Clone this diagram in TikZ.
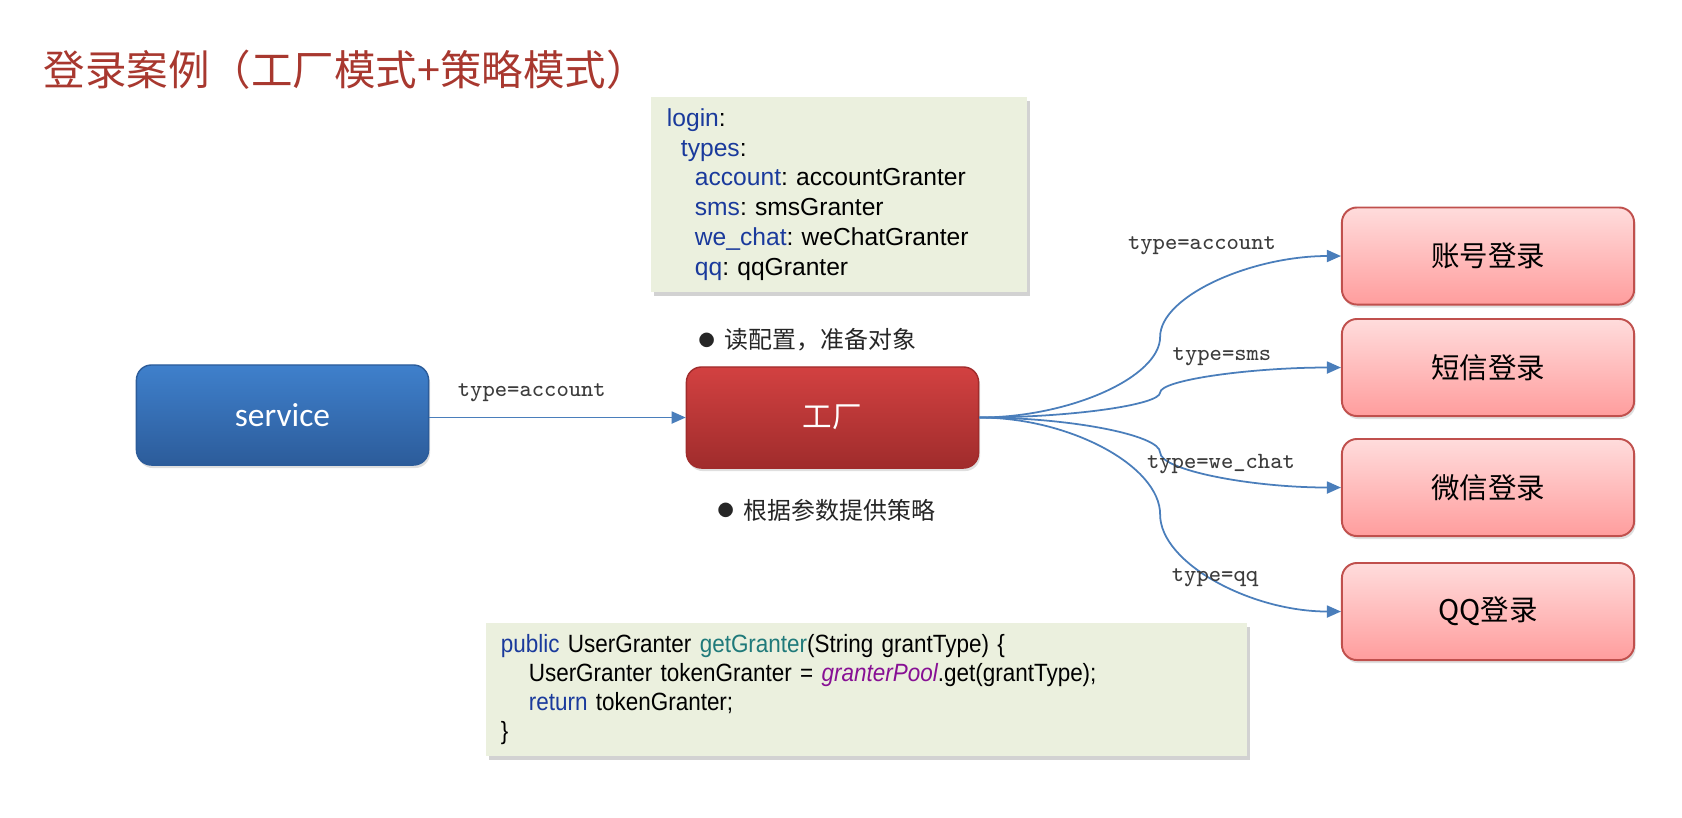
\documentclass[tikz,border=0pt]{standalone}
\usepackage{fontspec}
\setmainfont{Liberation Sans}
\setsansfont{Carlito}
\newfontfamily\cjk{Noto Sans CJK SC}
\newfontfamily\codefont[FakeStretch=0.9]{Liberation Sans}
\usetikzlibrary{positioning,arrows.meta,calc,shadows}
\definecolor{ttlred}{HTML}{A8382F}
\definecolor{svctop}{HTML}{3F80CC}
\definecolor{svcbot}{HTML}{2C5C9A}
\definecolor{factop}{HTML}{D24141}
\definecolor{facbot}{HTML}{A02C2C}
\definecolor{grtop}{HTML}{FFDCDC}
\definecolor{grbot}{HTML}{FF9D9D}
\definecolor{grline}{HTML}{C0504D}
\definecolor{cfgfill}{HTML}{EBF0DE}
\definecolor{key}{HTML}{1A3A9C}
\definecolor{meth}{HTML}{1F7A7A}
\definecolor{fld}{HTML}{871094}
\definecolor{wire}{HTML}{4A7EBB}
\definecolor{ink}{HTML}{262626}
\newcommand{\dotmark}{{\fontsize{4.6}{6}\selectfont\raisebox{0.25ex}{●}}\hspace{0.1cm}}
\frenchspacing

\begin{document}
\begin{tikzpicture}[
  x=0.01cm, y=-0.01cm,
  rbox/.style={rounded corners=0.15cm, minimum width=2.92cm, align=center,
    drop shadow={shadow xshift=0.015cm, shadow yshift=-0.03cm, opacity=0.25}},
  svcbox/.style={rbox, minimum height=1cm, top color=svctop, bottom color=svcbot, draw=svcbot,
    line width=0.4pt, text=white, font=\sffamily\fontsize{9.5}{11}\selectfont},
  facbox/.style={rbox, minimum height=1.01cm, top color=factop, bottom color=facbot, draw=facbot,
    line width=0.4pt, text=white, font=\cjk\fontsize{8.4}{10}\selectfont},
  grbox/.style={rbox, minimum height=0.97cm, top color=grtop, bottom color=grbot, draw=grline,
    line width=0.55pt, text=black, font=\cjk\fontsize{8.1}{10}\selectfont},
  cfgbox/.style={fill=cfgfill, align=left, inner ysep=0pt,
    drop shadow={shadow xshift=0.03cm, shadow yshift=-0.04cm, opacity=0.35}},
  flow/.style={-{Triangle[length=0.14cm, width=0.12cm]}, line width=0.5pt, draw=wire},
  lbl/.style={font=\ttfamily\fontsize{6.6}{8}\selectfont, text=ink!90},
  note/.style={font=\cjk\fontsize{6.8}{8}\selectfont, text=ink, inner sep=0pt, anchor=west}
]
  \useasboundingbox[fill=white] (0,0) rectangle (1682,817);

  \node[font=\cjk\fontsize{11.8}{14}\selectfont, text=ttlred, inner sep=0pt, anchor=west] (ttl) at (43,70)
    {登录案例（工厂模式+策略模式）};

  % config and code snippets
  \node[cfgbox, text width=3.44cm, inner xsep=0.16cm, minimum height=1.95cm,
    font=\fontsize{7}{8.5}\selectfont] (cfg) at (839,194.5)
    {{\color{key}login}:\\
     \hspace*{0.14cm}{\color{key}types}:\\
     \hspace*{0.28cm}{\color{key}account}: accountGranter\\
     \hspace*{0.28cm}{\color{key}sms}: smsGranter\\
     \hspace*{0.28cm}{\color{key}we\_chat}: weChatGranter\\
     \hspace*{0.28cm}{\color{key}qq}: qqGranter};
  \node[cfgbox, text width=7.31cm, inner xsep=0.15cm, minimum height=1.33cm,
    font=\codefont\fontsize{7.1}{8.3}\selectfont] (code) at (866.5,689.5)
    {{\color{key}public} UserGranter {\color{meth}getGranter}(String grantType) \{\\
     \hspace*{0.28cm}UserGranter tokenGranter = {\color{fld}\itshape granterPool}.get(grantType);\\
     \hspace*{0.28cm}{\color{key}return} tokenGranter;\\
     \}};

  \node[svcbox] (svc) at (282.5,415) {service};
  \node[facbox] (fac) at (832.5,417.5) {工厂};

  \node[note] (n1) at (698,340) {\dotmark 读配置，准备对象};
  \node[note] (n2) at (717,510) {\dotmark 根据参数提供策略};

  \node[grbox] (acc) at (1488,256) {账号登录};
  \node[grbox] (sms) at (1488,367.5) {短信登录};
  \node[grbox] (wc)  at (1488,487.5) {微信登录};
  \node[grbox] (qq)  at (1488,611.5) {QQ登录};

  \draw[flow] (svc.east |- fac.west) -- node[lbl, above, pos=0.4, yshift=1pt]{type=account} (fac.west);

  % fan out from the factory
  \foreach \t in {acc,sms,wc,qq}{
    \coordinate (m) at ($(fac.east)!0.5!(\t.west)$);
    \draw[flow] (fac.east) .. controls ($(fac.east)!0.5!(fac.east -| m)$) and ($(fac.east -| m)!0.5!(m)$) .. (m)
      .. controls ($(m)!0.5!(m |- \t.west)$) and ($(m |- \t.west)!0.5!(\t.west)$) .. (\t.west);
  }

  \node[lbl] (lacc) at (1202,246) {type=account};
  \node[lbl] (lsms) at (1222,357) {type=sms};
  \node[lbl] (lwc)  at (1221,464) {type=we\_chat};
  \node[lbl] (lqq)  at (1215,578) {type=qq};

\end{tikzpicture}
\end{document}
